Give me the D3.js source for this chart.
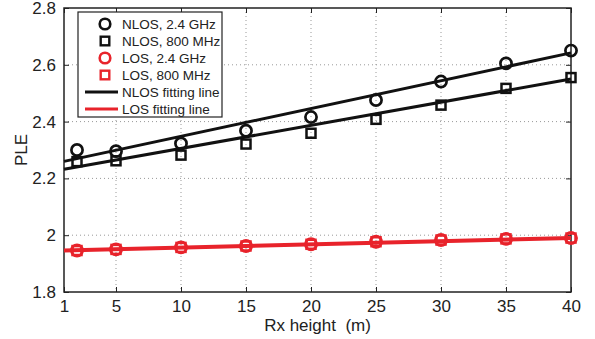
<!DOCTYPE html>
<html><head><meta charset="utf-8">
<script src="https://cdn.jsdelivr.net/npm/d3@7"></script>
<style>body{margin:0;background:#fff}svg{display:block}text{font-family:Arial,"Liberation Sans",sans-serif;fill:#222;white-space:pre}</style>
</head><body>
<svg id="c" width="595" height="339"></svg>
<script>
const xValues = [2, 5, 10, 15, 20, 25, 30, 35, 40];
const nlos24 = [2.300, 2.296, 2.323, 2.368, 2.416, 2.476, 2.541, 2.605, 2.650];
const nlos800 = [2.259, 2.262, 2.282, 2.321, 2.359, 2.408, 2.458, 2.517, 2.555];
const los24 = [1.946, 1.950, 1.957, 1.962, 1.968, 1.977, 1.983, 1.987, 1.990];
const los800 = [1.946, 1.950, 1.957, 1.962, 1.968, 1.977, 1.983, 1.987, 1.990];
const fitX = [1, 40];
const nlosFit24 = [2.260, 2.642];
const nlosFit800 = [2.232, 2.550];
const losFit = [1.946, 1.990];
const xTicks = [1, 5, 10, 15, 20, 25, 30, 35, 40];
const yTicks = [1.8, 2, 2.2, 2.4, 2.6, 2.8];
const legendLabels = ["NLOS, 2.4 GHz", "NLOS, 800 MHz", "LOS, 2.4 GHz", "LOS, 800 MHz", "NLOS fitting line", "LOS fitting line"];

const RED = "#e8232b", BLK = "#111";
const svg = d3.select("#c");
const L = 64, R = 571, T = 8, B = 292;
const x = d3.scaleLinear().domain([1, 40]).range([L, R]);
const y = d3.scaleLinear().domain([1.8, 2.8]).range([B, T]);

// grid
const g = svg.append("g");
g.selectAll(".gx").data(xTicks.slice(1, -1)).enter().append("line")
  .attr("x1", d => x(d)).attr("x2", d => x(d)).attr("y1", T).attr("y2", B)
  .attr("stroke", "#999").attr("stroke-width", 1).attr("stroke-dasharray", "1,3");
g.selectAll(".gy").data(yTicks.slice(1, -1)).enter().append("line")
  .attr("x1", L).attr("x2", R).attr("y1", d => y(d)).attr("y2", d => y(d))
  .attr("stroke", "#999").attr("stroke-width", 1).attr("stroke-dasharray", "1,3");

// axes
const fs = "17px";
const xAxis = svg.append("g").attr("transform", `translate(0,${B})`)
  .call(d3.axisBottom(x).tickValues(xTicks).tickFormat(d3.format("d")).tickSizeInner(-5).tickSizeOuter(0).tickPadding(8));
const yAxis = svg.append("g").attr("transform", `translate(${L},0)`)
  .call(d3.axisLeft(y).tickValues(yTicks).tickFormat(d => String(+d.toFixed(1))).tickSizeInner(-5).tickSizeOuter(0).tickPadding(8));
const xTop = svg.append("g").attr("transform", `translate(0,${T})`)
  .call(d3.axisTop(x).tickValues(xTicks).tickFormat("").tickSizeInner(-5).tickSizeOuter(0));
const yRight = svg.append("g").attr("transform", `translate(${R},0)`)
  .call(d3.axisRight(y).tickValues(yTicks).tickFormat("").tickSizeInner(-5).tickSizeOuter(0));
[xAxis, yAxis, xTop, yRight].forEach(a => {
  a.selectAll("path").remove();
  a.selectAll("line").attr("stroke", "#222").attr("stroke-width", 1);
  a.selectAll("text").style("font-size", fs).attr("fill", "#222");
});
svg.append("rect").attr("x", L).attr("y", T).attr("width", R - L).attr("height", B - T)
  .attr("fill", "none").attr("stroke", "#222").attr("stroke-width", 1.5);

svg.append("text").attr("x", (L + R) / 2).attr("y", 331).attr("text-anchor", "middle")
  .style("font-size", "17px").text("Rx height  (m)");
svg.append("text").attr("transform", `translate(27,${(T + B) / 2}) rotate(-90)`).attr("text-anchor", "middle")
  .style("font-size", "17px").text("PLE");

// lines
const line = d3.line().x(d => x(d[0])).y(d => y(d[1]));
const plot = svg.append("g");
function fit(vals, color, w) {
  plot.append("path").datum(fitX.map((v, i) => [v, vals[i]])).attr("d", line)
    .attr("fill", "none").attr("stroke", color).attr("stroke-width", w);
}
fit(nlosFit24, BLK, 3);
fit(nlosFit800, BLK, 3);
fit(losFit, RED, 4);

function circles(vals, color) {
  plot.selectAll(null).data(xValues.map((v, i) => [v, vals[i]])).enter().append("circle")
    .attr("cx", d => x(d[0])).attr("cy", d => y(d[1])).attr("r", 5.6)
    .attr("fill", "none").attr("stroke", color).attr("stroke-width", 2.7);
}
function squares(vals, color) {
  const s = 9;
  plot.selectAll(null).data(xValues.map((v, i) => [v, vals[i]])).enter().append("rect")
    .attr("x", d => x(d[0]) - s / 2).attr("y", d => y(d[1]) - s / 2).attr("width", s).attr("height", s)
    .attr("fill", "none").attr("stroke", color).attr("stroke-width", 2.5);
}
circles(nlos24, BLK);
squares(nlos800, BLK);
circles(los24, RED);
squares(los800, RED);

// legend
const lg = svg.append("g");
lg.append("rect").attr("x", 78).attr("y", 12).attr("width", 144).attr("height", 105)
  .attr("fill", "#fff").attr("stroke", "#222").attr("stroke-width", 1.2);
const rowY = i => 24 + i * 17;
const sx = 105;
lg.append("circle").attr("cx", sx).attr("cy", rowY(0)).attr("r", 5.3).attr("fill", "none").attr("stroke", BLK).attr("stroke-width", 2.6);
lg.append("rect").attr("x", sx - 4.3).attr("y", rowY(1) - 4.3).attr("width", 8.6).attr("height", 8.6).attr("fill", "none").attr("stroke", BLK).attr("stroke-width", 2.4);
lg.append("circle").attr("cx", sx).attr("cy", rowY(2)).attr("r", 5.3).attr("fill", "none").attr("stroke", RED).attr("stroke-width", 2.6);
lg.append("rect").attr("x", sx - 4.3).attr("y", rowY(3) - 4.3).attr("width", 8.6).attr("height", 8.6).attr("fill", "none").attr("stroke", RED).attr("stroke-width", 2.4);
lg.append("line").attr("x1", 85).attr("x2", 118).attr("y1", rowY(4)).attr("y2", rowY(4)).attr("stroke", BLK).attr("stroke-width", 3);
lg.append("line").attr("x1", 85).attr("x2", 118).attr("y1", rowY(5)).attr("y2", rowY(5)).attr("stroke", RED).attr("stroke-width", 3);
lg.selectAll(null).data(legendLabels).enter().append("text")
  .attr("x", 122).attr("y", (d, i) => rowY(i) + 4.8).style("font-size", "13.5px").text(d => d);
</script>
</body></html>
